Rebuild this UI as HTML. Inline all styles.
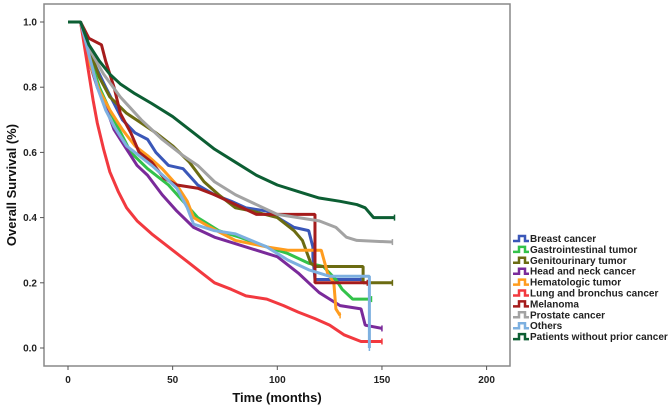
<!DOCTYPE html>
<html><head><meta charset="utf-8"><style>
body{margin:0;background:#fff;font-family:"Liberation Sans",Arial,sans-serif}
svg text{font-family:"Liberation Sans",Arial,sans-serif;font-weight:bold}
</style></head><body>
<svg id="c" width="669" height="408"></svg>
<script>
const xTicks=[0,50,100,150,200];
const yTicks=[0.0,0.2,0.4,0.6,0.8,1.0];
const seriesNames=["Breast cancer","Gastrointestinal tumor","Genitourinary tumor","Head and neck cancer","Hematologic tumor","Lung and bronchus cancer","Melanoma","Prostate cancer","Others","Patients without prior cancer"];
const seriesColors=["#3a57b8","#33c24a","#6b6b12","#7a2a9a","#ff9c1e","#f2393f","#a51c1c","#a3a3a3","#7db0e0","#0c5e33"];
const breast=[[0,1],[6,1],[12,0.88],[18,0.8],[22,0.75],[26,0.7],[32,0.66],[38,0.64],[42,0.6],[48,0.56],[55,0.55],[62,0.5],[70,0.47],[78,0.45],[85,0.43],[95,0.42],[108,0.37],[115,0.36],[117,0.31],[117,0.28],[118,0.21],[140,0.21]];
const gi=[[0,1],[6,1],[10,0.9],[15,0.8],[22,0.7],[30,0.6],[38,0.55],[48,0.5],[55,0.45],[62,0.4],[72,0.36],[82,0.34],[95,0.31],[105,0.29],[115,0.26],[122,0.25],[128,0.21],[131,0.18],[136,0.15],[145,0.15]];
const gu=[[0,1],[6,1],[10,0.92],[15,0.83],[20,0.77],[28,0.72],[35,0.69],[42,0.66],[50,0.62],[58,0.57],[65,0.51],[72,0.47],[80,0.43],[88,0.42],[100,0.4],[108,0.36],[112,0.33],[116,0.26],[118,0.25],[141,0.25],[141,0.2],[155,0.2]];
const hn=[[0,1],[6,1],[10,0.88],[14,0.8],[18,0.74],[22,0.67],[27,0.62],[33,0.56],[38,0.53],[45,0.47],[52,0.42],[60,0.37],[70,0.34],[80,0.32],[90,0.3],[100,0.28],[110,0.23],[115,0.2],[120,0.17],[125,0.15],[130,0.13],[140,0.12],[142,0.07],[150,0.06]];
const hem=[[0,1],[6,1],[10,0.88],[15,0.79],[20,0.73],[26,0.67],[32,0.62],[38,0.59],[45,0.55],[52,0.5],[57,0.45],[60,0.4],[68,0.37],[80,0.33],[95,0.31],[105,0.3],[117,0.3],[121,0.3],[124,0.23],[127,0.2],[128,0.12],[130,0.1]];
const lung=[[0,1],[6,1],[8,0.92],[10,0.84],[12,0.76],[14,0.69],[17,0.61],[20,0.54],[24,0.48],[28,0.43],[33,0.39],[40,0.35],[46,0.32],[52,0.29],[58,0.26],[64,0.23],[70,0.2],[78,0.18],[85,0.16],[95,0.15],[103,0.13],[110,0.11],[118,0.09],[125,0.07],[132,0.04],[140,0.02],[150,0.02]];
const mel=[[0,1],[6,1],[10,0.95],[16,0.93],[18,0.88],[22,0.8],[25,0.72],[30,0.66],[34,0.6],[40,0.57],[46,0.52],[52,0.5],[62,0.49],[70,0.47],[80,0.44],[90,0.41],[118,0.41],[118,0.2],[143,0.2]];
const prost=[[0,1],[6,1],[10,0.92],[17,0.84],[25,0.77],[35,0.7],[45,0.64],[55,0.59],[62,0.56],[70,0.51],[80,0.47],[90,0.44],[100,0.41],[110,0.4],[120,0.39],[128,0.37],[133,0.34],[138,0.33],[155,0.325]];
const others=[[0,1],[6,1],[10,0.9],[14,0.8],[18,0.73],[22,0.68],[28,0.62],[32,0.6],[40,0.56],[47,0.52],[52,0.49],[57,0.43],[60,0.38],[70,0.36],[80,0.35],[95,0.31],[105,0.27],[115,0.24],[125,0.22],[144,0.22],[144,0.0]];
const noprior=[[0,1],[6,1],[10,0.93],[15,0.88],[20,0.84],[25,0.81],[32,0.78],[40,0.75],[50,0.71],[60,0.66],[70,0.61],[80,0.57],[90,0.53],[100,0.5],[110,0.48],[120,0.46],[130,0.45],[138,0.44],[142,0.43],[146,0.4],[156,0.4]];
const allSeries=[breast,gi,gu,hn,hem,lung,mel,prost,others,noprior];
const ns="http://www.w3.org/2000/svg";
const svg=document.getElementById('c');
const X=t=>68+t*2.093, Y=s=>348-s*326;
function mk(tag,attrs,parent){const e=document.createElementNS(ns,tag);for(const k in attrs)e.setAttribute(k,attrs[k]);(parent||svg).appendChild(e);return e;}
const frame=mk('rect',{x:44,y:4,width:466,height:362,fill:'none',stroke:'#888','stroke-width':1.5});


xTicks.forEach(v=>{
 const l=mk('line',{x1:X(v),x2:X(v),y1:366,y2:370,stroke:'#555'});
 
 
 const t=mk('text',{x:X(v),y:383,'text-anchor':'middle','font-size':10,fill:'#222'});t.textContent=v;
 
 
});
yTicks.forEach(v=>{
 const l=mk('line',{x1:40,x2:44,y1:Y(v),y2:Y(v),stroke:'#555'});
 
 
 const t=mk('text',{x:37,y:Y(v)+3.5,'text-anchor':'end','font-size':10,fill:'#222'});t.textContent=v.toFixed(1);
 
 
});
const xt=mk('text',{x:277,y:402,'text-anchor':'middle','font-size':13,fill:'#111'});xt.textContent='Time (months)';


const yt=mk('text',{x:16,y:185,'text-anchor':'middle','font-size':13,fill:'#111',transform:'rotate(-90 16 185)'});yt.textContent='Overall Survival (%)';


allSeries.forEach((d,i)=>{
 let p='M'+X(d[0][0])+','+Y(d[0][1]);
 for(let j=1;j<d.length;j++){p+=' L'+X(d[j][0])+','+Y(d[j][1]);}
 const path=mk('path',{d:p,fill:'none',stroke:seriesColors[i],'stroke-width':3,'stroke-linejoin':'bevel'});
 
 
 const last=d[d.length-1];
 const c=mk('line',{x1:X(last[0]),x2:X(last[0]),y1:Y(last[1])-3,y2:Y(last[1])+3,stroke:seriesColors[i],'stroke-width':1.5});
 
 
});
seriesNames.forEach((n,i)=>{
 const y=238+i*10.9;
 const ic=mk('path',{d:`M513,${y+3} H519 V${y-2} H525 V${y+3} H529`,fill:'none',stroke:seriesColors[i],'stroke-width':2.5});
 
 
 const t=mk('text',{x:530,y:y+4,'font-size':10,fill:'#222'});t.textContent=n;
 
 
});
</script>
</body></html>
